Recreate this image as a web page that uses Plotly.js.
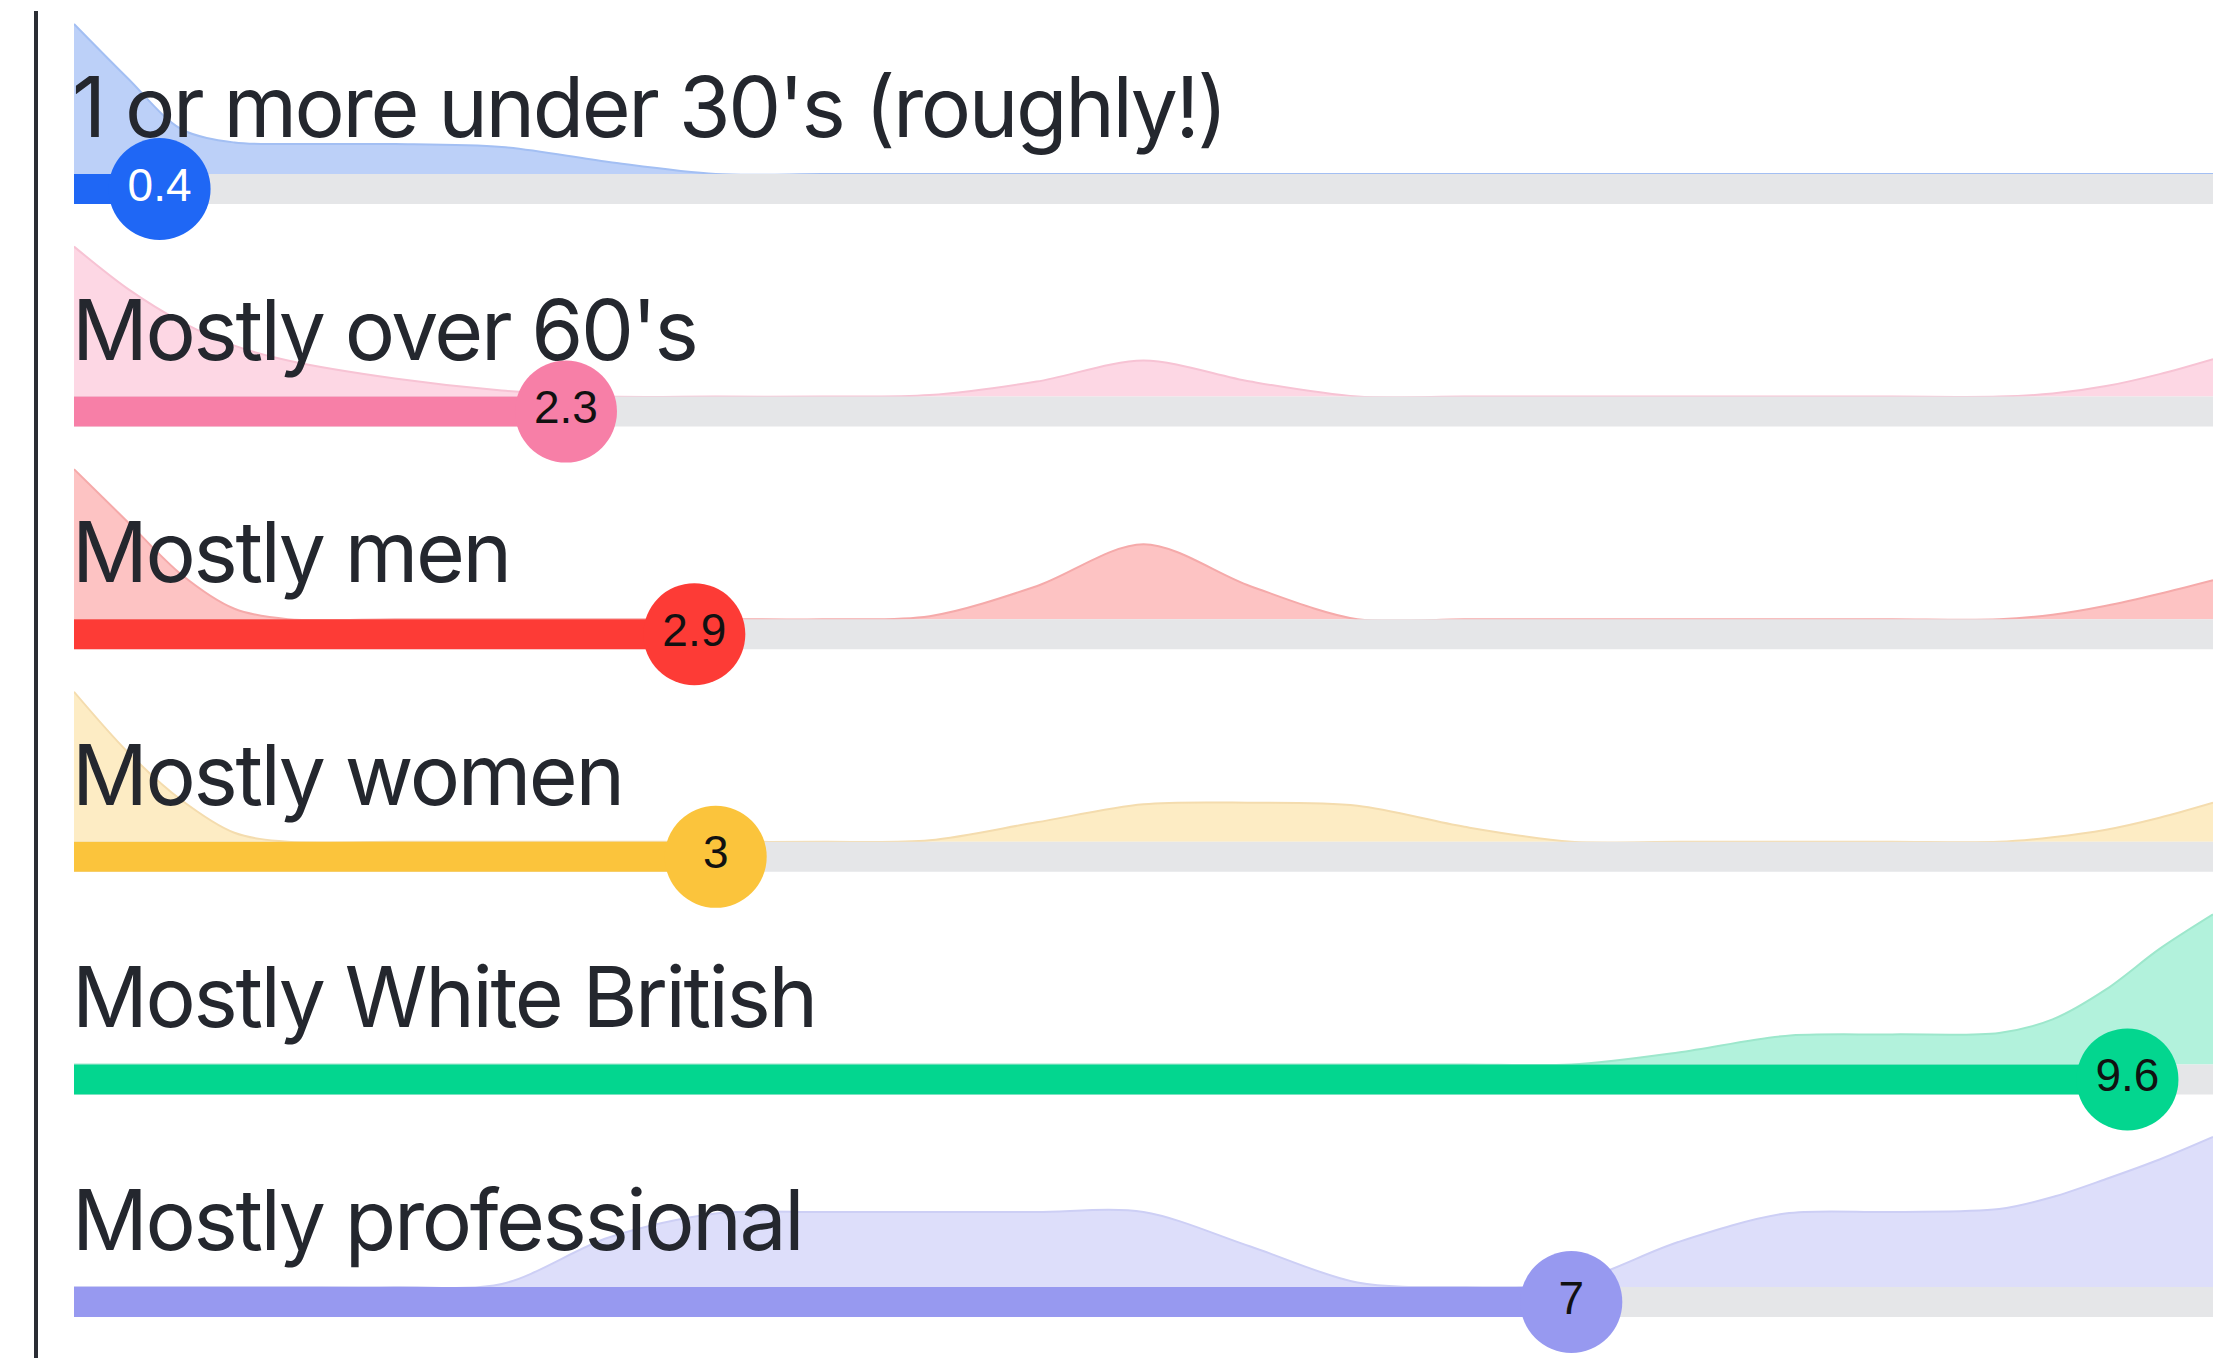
<!DOCTYPE html>
<html>
<head>
<meta charset="utf-8">
<script src="https://cdn.plot.ly/plotly-3.0.1.min.js"></script>
<style>
  html, body { margin: 0; padding: 0; background: #ffffff; }
  #chart { width: 2229px; height: 1358px; }
  .annotation-text { letter-spacing: -2.4px; }
</style>
</head>
<body>
<div id="chart"></div>
<script>
// ---- data ----
const xs = [0, 0.25, 0.5, 0.75, 1, 1.5, 2, 2.5, 3, 3.5, 4, 4.5, 5, 5.5, 6, 6.5, 7, 7.5, 8, 8.5, 9, 9.25, 9.5, 9.75, 10];

const categories = [
  "1 or more under 30's (roughly!)",
  "Mostly over 60's",
  "Mostly men",
  "Mostly women",
  "Mostly White British",
  "Mostly professional"
];

const scores = [0.4, 2.3, 2.9, 3, 9.6, 7];
const scoreLabels = ["0.4", "2.3", "2.9", "3", "9.6", "7"];

// relative density of responses along the 0-10 scale (1 = tallest point of each row)
const densUnder30 = [1.0, 0.64, 0.30, 0.21, 0.20, 0.20, 0.18, 0.08, 0.0, 0, 0, 0, 0, 0, 0, 0, 0, 0, 0, 0, 0, 0, 0, 0, 0];
const densOver60  = [1.0, 0.72, 0.50, 0.34, 0.24, 0.12, 0.04, 0.0, 0, 0, 0.01, 0.10, 0.24, 0.10, 0.0, 0, 0, 0, 0, 0, 0, 0.02, 0.07, 0.15, 0.25];
const densMen     = [1.0, 0.65, 0.30, 0.07, 0.0, 0, 0, 0, 0, 0, 0.02, 0.22, 0.50, 0.22, 0.0, 0, 0, 0, 0, 0, 0, 0.03, 0.09, 0.17, 0.26];
const densWomen   = [1.0, 0.60, 0.28, 0.06, 0.0, 0, 0, 0, 0, 0, 0.01, 0.13, 0.25, 0.26, 0.24, 0.10, 0.0, 0, 0, 0, 0, 0.03, 0.08, 0.16, 0.26];
const densWhiteBr = [0, 0, 0, 0, 0, 0, 0, 0, 0, 0, 0, 0, 0, 0, 0, 0, 0.0, 0.08, 0.19, 0.20, 0.21, 0.30, 0.50, 0.77, 1.0];
const densProf    = [0, 0, 0, 0, 0, 0, 0.02, 0.33, 0.49, 0.50, 0.50, 0.50, 0.50, 0.27, 0.03, 0.0, 0.03, 0.30, 0.49, 0.50, 0.52, 0.60, 0.72, 0.85, 1.0];

const densities = [densUnder30, densOver60, densMen, densWomen, densWhiteBr, densProf];

// ---- styles ----
const mainColors = ['#1f67f5', '#f77fa7', '#fd3b36', '#fbc43c', '#03d68f', '#9799f0'];
const fillColors = ['#bcd0f8', '#fdd7e4', '#fdc3c3', '#fdecc4', '#b2f2dc', '#dddefa'];
const edgeColors = ['#a3bff3', '#f7c3d4', '#f5aaaa', '#f4dcae', '#9de7cc', '#cdcff5'];
const valueTextColors = ['#ffffff', '#111111', '#111111', '#111111', '#111111', '#111111'];
const trackColor = '#e5e6e8';

const H = 1358, W = 2229;
const ML = 74, MR = 16;
const rowCenters = [189, 411.6, 634.2, 856.8, 1079.4, 1302];
const TRACK_Y = -0.1;

const traces = [];
const annotations = [];
const layout = {
  width: W, height: H,
  margin: {l: ML, r: MR, t: 0, b: 0, pad: 0},
  paper_bgcolor: '#ffffff',
  plot_bgcolor: 'rgba(0,0,0,0)',
  showlegend: false,
  hovermode: false,
  xaxis: {range: [0, 10], showgrid: false, zeroline: false, showticklabels: false, showline: false, ticks: '', fixedrange: true},
  shapes: [{
    type: 'line', xref: 'paper', yref: 'paper',
    x0: (36 - ML) / (W - ML - MR), x1: (36 - ML) / (W - ML - MR),
    y0: 0, y1: 1 - 11 / H,
    line: {color: '#2a2d34', width: 4}
  }],
  annotations: annotations
};

categories.forEach((cat, i) => {
  const axName = i === 0 ? 'yaxis' : 'yaxis' + (i + 1);
  const axRef = i === 0 ? 'y' : 'y' + (i + 1);
  const c = rowCenters[i];
  layout[axName] = {
    domain: [1 - (c + 30) / H, 1 - (c - 180) / H],
    range: [-0.3, 1.1],
    showgrid: false, zeroline: false, showticklabels: false, showline: false, ticks: '',
    fixedrange: true, anchor: 'x'
  };
  traces.push({
    x: xs, y: densities[i], yaxis: axRef, type: 'scatter', mode: 'lines',
    line: {shape: 'spline', smoothing: 0.9, color: edgeColors[i], width: 2},
    fill: 'tozeroy', fillcolor: fillColors[i], hoverinfo: 'skip'
  });
});

categories.forEach((cat, i) => {
  const axRef = i === 0 ? 'y' : 'y' + (i + 1);
  traces.push({
    x: [0, 10], y: [TRACK_Y, TRACK_Y], yaxis: axRef, type: 'scatter', mode: 'lines',
    line: {color: trackColor, width: 30}, hoverinfo: 'skip'
  });
  traces.push({
    x: [0, scores[i]], y: [TRACK_Y, TRACK_Y], yaxis: axRef, type: 'scatter', mode: 'lines',
    line: {color: mainColors[i], width: 30}, hoverinfo: 'skip'
  });
  annotations.push({
    text: cat, x: 0, y: 0.1, xref: 'x', yref: axRef,
    xanchor: 'left', yanchor: 'bottom', showarrow: false, xshift: -4,
    font: {family: 'Inter, "Noto Sans", sans-serif', size: 84, color: '#24272e'}
  });
});

categories.forEach((cat, i) => {
  const axRef = i === 0 ? 'y' : 'y' + (i + 1);
  traces.push({
    x: [scores[i]], y: [TRACK_Y], yaxis: axRef, type: 'scatter', mode: 'markers+text',
    marker: {size: 102, color: mainColors[i], line: {width: 0}},
    text: [scoreLabels[i]], textposition: 'middle center',
    textfont: {family: '"Liberation Sans", Arial, sans-serif', size: 46, color: valueTextColors[i]},
    cliponaxis: false, hoverinfo: 'skip'
  });
});

Plotly.newPlot('chart', traces, layout, {displayModeBar: false, staticPlot: true});
</script>
</body>
</html>
